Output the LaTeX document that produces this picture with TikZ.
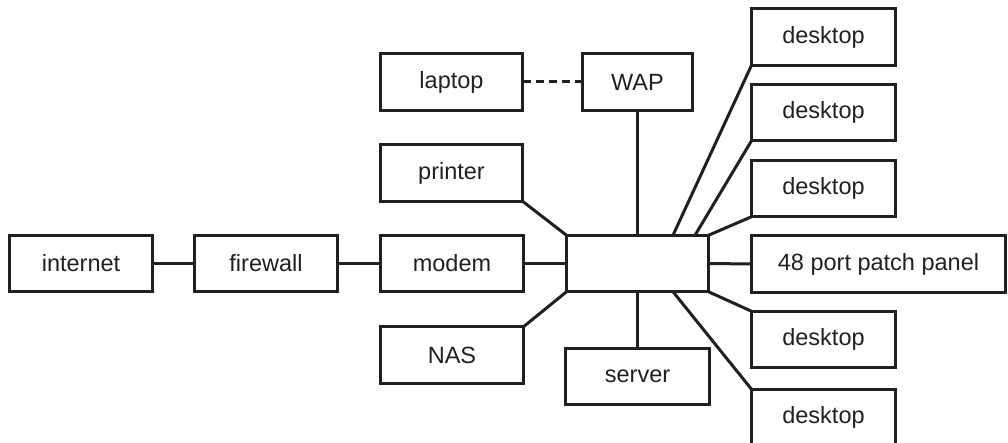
\documentclass[tikz,border=0pt]{standalone}
\usepackage{fontspec}
\setmainfont{Liberation Sans}
\definecolor{ink}{HTML}{231F20}
\begin{document}
\begin{tikzpicture}[x=1pt,y=-1pt,
  box/.style={draw=ink, line width=3pt, text=ink, inner sep=0pt, outer sep=0pt,
    minimum height=56.5pt, font=\fontsize{23.5}{26}\selectfont},
  link/.style={draw=ink, line width=3pt},
  wifi/.style={link, dash pattern=on 8pt off 5pt}]
\useasboundingbox (0,0) rectangle (1008,443);
\node[box, minimum width=143pt] (internet) at (81,263.5) {internet};
\node[box, minimum width=143pt] (firewall) at (266,263.5) {firewall};
\node[box, minimum width=143pt] (modem) at (452,263.5) {modem};
\node[box, minimum width=142pt] (hub) at (637.5,263.5) {};
\node[box, minimum width=254pt] (patch) at (878.5,264) {48 port patch panel};
\node[box, minimum width=142pt] (laptop) at (451.5,82) {laptop};
\node[box, minimum width=110pt] (wap) at (637.5,82) {WAP};
\node[box, minimum width=142pt] (printer) at (451.5,173) {printer};
\node[box, minimum width=143pt] (nas) at (452,355) {NAS};
\node[box, minimum width=144pt] (server) at (637.5,376.5) {server};
\node[box, minimum width=144pt] (d1) at (823.5,37) {desktop};
\node[box, minimum width=144pt] (d2) at (823.5,112.5) {desktop};
\node[box, minimum width=144pt] (d3) at (823.5,188.5) {desktop};
\node[box, minimum width=144pt] (d5) at (823.5,339.5) {desktop};
\node[box, minimum width=144pt] (d6) at (823.5,417.5) {desktop};
\draw[link] (internet.east) -- (firewall.west);
\draw[link] (firewall.east) -- (modem.west);
\draw[link] (modem.east) -- (hub.west);
\draw[wifi] (laptop.east) -- (wap.west);
\draw[link] (wap.south) -- (hub.north);
\draw[link] (printer.south east) -- (hub.north west);
\draw[link] (nas.north east) -- (hub.south west);
\draw[link] (hub.south) -- (server.north);
\draw[link] ([xshift=35.5pt]hub.north) -- (d1.south west);
\draw[link] ([xshift=57.5pt]hub.north) -- (d2.south west);
\draw[link] (hub.north east) -- (d3.south west);
\draw[link] (hub.east) -- (patch.west);
\draw[link] (hub.south east) -- (d5.north west);
\draw[link] ([xshift=35.5pt]hub.south) -- (d6.north west);
\end{tikzpicture}
\end{document}
